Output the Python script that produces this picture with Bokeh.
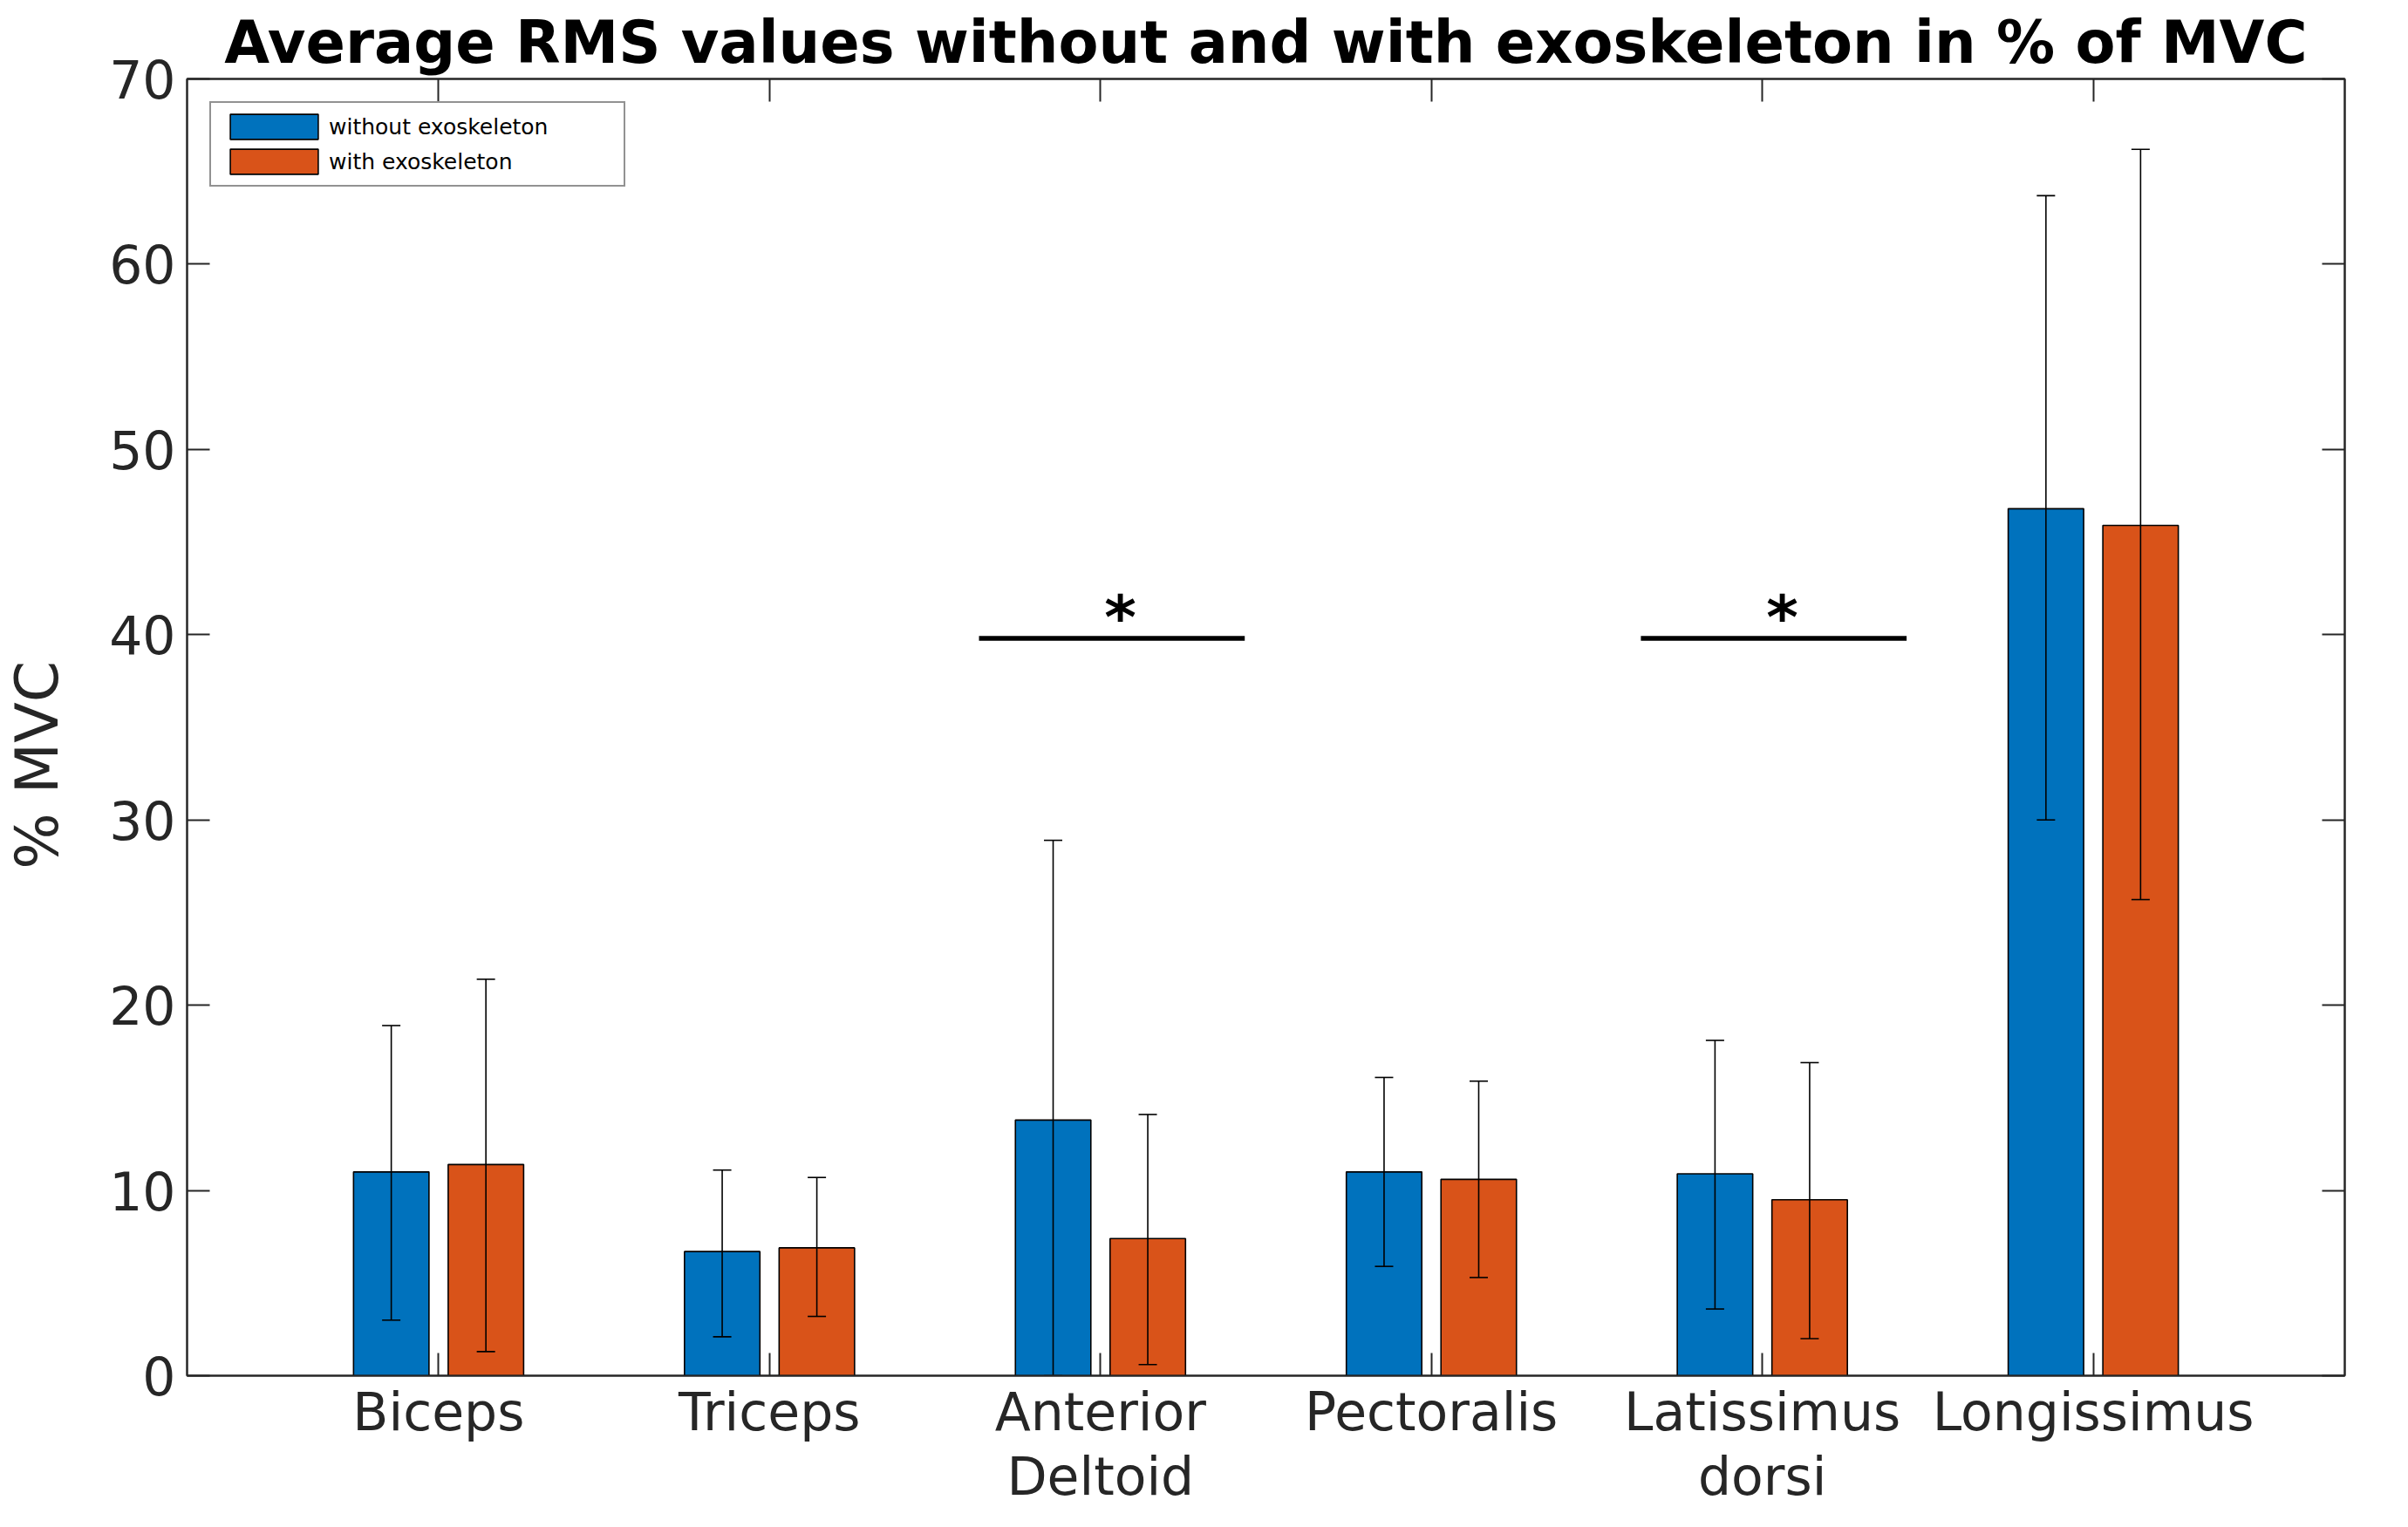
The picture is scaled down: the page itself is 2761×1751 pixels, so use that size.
from bokeh.plotting import figure
from bokeh.models import (ColumnDataSource, Range1d, FixedTicker, LinearAxis, Legend)
from bokeh.core.properties import value
from bokeh.embed import file_html
from bokeh.resources import INLINE

# ---------------- data ----------------
categories = ["Biceps", "Triceps", "Anterior\nDeltoid", "Pectoralis", "Latissimus\ndorsi", "Longissimus"]
cat_pos = [1, 2, 3, 4, 5, 6]

without_mean = [11.0, 6.7, 13.8, 11.0, 10.9, 46.8]
without_upper = [18.9, 11.1, 28.9, 16.1, 18.1, 63.7]
without_lower = [3.0, 2.1, 0.0, 5.9, 3.6, 30.0]

with_mean = [11.4, 6.9, 7.4, 10.6, 9.5, 45.9]
with_upper = [21.4, 10.7, 14.1, 15.9, 16.9, 66.2]
with_lower = [1.3, 3.2, 0.6, 5.3, 2.0, 25.7]

# significance markers (category index, bar level)
sig_cat = [3, 5]
sig_level = [39.8, 39.8]

y_ticks = [0, 10, 20, 30, 40, 50, 60, 70]

BLUE = "#0072BD"
ORANGE = "#D95319"
AXC = "#262626"
FONT = "DejaVu Sans"

off = 0.143
bw = 0.228

p = figure(width=2745, height=1735, output_backend="svg", toolbar_location=None,
           x_range=Range1d(0.24, 6.76), y_range=Range1d(0, 70),
           min_border_left=210, min_border_right=57, min_border_top=90, min_border_bottom=158,
           title="Average RMS values without and with exoskeleton in % of MVC")

p.xgrid.visible = False
p.ygrid.visible = False
p.outline_line_color = AXC
p.outline_line_width = 2
p.background_fill_color = "white"
p.border_fill_color = "white"

p.title.align = "center"
p.title.text_font = FONT
p.title.text_font_size = "67px"
p.title.text_font_style = "bold"
p.title.text_color = "black"
p.title.standoff = 6

src_wo = ColumnDataSource(dict(x=[c - off for c in cat_pos], top=without_mean,
                               upper=without_upper, lower=without_lower))
src_w = ColumnDataSource(dict(x=[c + off for c in cat_pos], top=with_mean,
                              upper=with_upper, lower=with_lower))

r1 = p.vbar(x="x", top="top", bottom=0, width=bw, source=src_wo, fill_color=BLUE,
            line_color="black", line_width=1.6)
r2 = p.vbar(x="x", top="top", bottom=0, width=bw, source=src_w, fill_color=ORANGE,
            line_color="black", line_width=1.6)

# error bars (drawn on top of bars)
for s in (src_wo, src_w):
    p.segment(x0="x", x1="x", y0="lower", y1="upper", source=s,
              line_color="black", line_width=1.6)
    p.scatter(x="x", y="upper", source=s, marker="dash", size=21,
              line_color="black", line_width=1.6)
    p.scatter(x="x", y="lower", source=s, marker="dash", size=21,
              line_color="black", line_width=1.6)

# significance lines and asterisks
p.segment(x0=[c - 0.367 for c in sig_cat], x1=[c + 0.436 for c in sig_cat],
          y0=sig_level, y1=sig_level, line_color="black", line_width=5.5)
p.text(x=[c + 0.06 for c in sig_cat], y=sig_level, text=["*", "*"],
       text_font=value(FONT), text_font_style="bold", text_font_size="70px",
       text_align="center", text_baseline="alphabetic", text_color="black",
       y_offset=-24)

# axes styling
def style_axis(ax):
    ax.axis_line_color = AXC
    ax.axis_line_width = 2
    ax.major_tick_line_color = AXC
    ax.major_tick_line_width = 2
    ax.major_tick_in = 26
    ax.major_tick_out = 0
    ax.minor_tick_line_color = None
    ax.major_label_text_font = FONT
    ax.major_label_text_color = AXC

xa = p.xaxis[0]
xa.ticker = FixedTicker(ticks=cat_pos)
xa.major_label_overrides = {c: lab for c, lab in zip(cat_pos, categories)}
style_axis(xa)
xa.major_label_text_font_size = "60px"
xa.major_label_text_line_height = 1.07
xa.major_label_standoff = 6

ya = p.yaxis[0]
ya.ticker = FixedTicker(ticks=y_ticks)
style_axis(ya)
ya.major_label_text_font_size = "60px"
ya.major_label_standoff = 13
ya.axis_label = "% MVC\u00a0\u00a0\u00a0\u00a0"
ya.axis_label_text_font = FONT
ya.axis_label_text_font_size = "68px"
ya.axis_label_text_font_style = "normal"
ya.axis_label_text_color = AXC
ya.axis_label_standoff = 40

top_ax = LinearAxis(ticker=FixedTicker(ticks=cat_pos))
style_axis(top_ax)
top_ax.major_label_overrides = {c: "" for c in cat_pos}
top_ax.major_label_standoff = 0
p.add_layout(top_ax, "above")
right_ax = LinearAxis(ticker=FixedTicker(ticks=y_ticks))
style_axis(right_ax)
right_ax.major_label_overrides = {t: "" for t in y_ticks}
right_ax.major_label_standoff = 0
p.add_layout(right_ax, "right")

legend = Legend(items=[("without exoskeleton", [r1]), ("with exoskeleton", [r2])],
                location="top_left")
legend.margin = 26
legend.padding = 9
legend.spacing = 4
legend.glyph_width = 126
legend.glyph_height = 36
legend.label_standoff = -4
legend.label_width = 329
legend.label_text_font = FONT
legend.label_text_font_size = "25px"
legend.label_text_color = "black"
legend.border_line_color = AXC
legend.border_line_width = 2
legend.background_fill_color = "white"
legend.background_fill_alpha = 1
p.add_layout(legend, "center")

open("out.html", "w").write(file_html(p, INLINE))
